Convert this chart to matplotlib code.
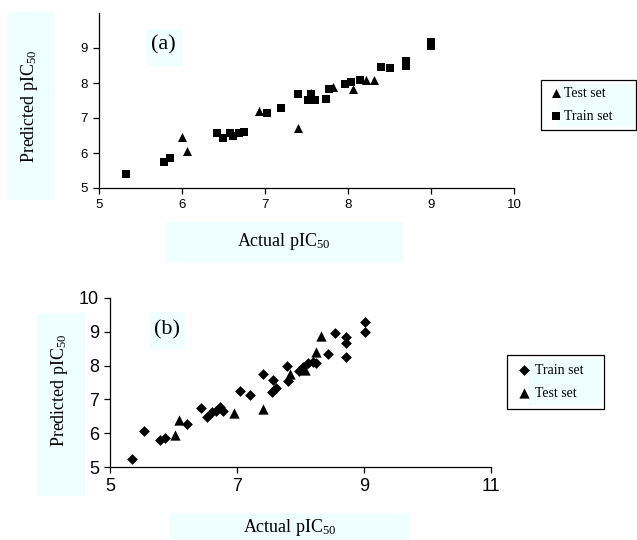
import matplotlib
matplotlib.use("Agg")
import matplotlib.pyplot as plt
from matplotlib.patches import Rectangle

# ---------------- data ----------------
a_train_x = [5.33, 5.78, 5.85, 6.42, 6.49, 6.58, 6.62, 6.69, 6.75, 7.03, 7.19, 7.40, 7.52,
             7.55, 7.60, 7.74, 7.77, 7.96, 8.04, 8.14, 8.40, 8.51, 8.70, 8.70, 9.00, 9.00]
a_train_y = [5.39, 5.74, 5.87, 6.56, 6.44, 6.58, 6.49, 6.58, 6.61, 7.13, 7.29, 7.68, 7.52,
             7.68, 7.52, 7.53, 7.82, 7.97, 8.04, 8.09, 8.47, 8.42, 8.62, 8.50, 9.18, 9.06]
a_test_x = [6.00, 6.06, 6.93, 7.40, 7.55, 7.82, 8.06, 8.22, 8.31]
a_test_y = [6.47, 6.06, 7.20, 6.71, 7.72, 7.90, 7.83, 8.09, 8.09]

b_train_x = [5.34, 5.53, 5.79, 5.87, 6.21, 6.43, 6.52, 6.60, 6.67, 6.73, 6.78, 7.05, 7.20,
             7.41, 7.56, 7.55, 7.62, 7.78, 7.81, 7.97, 8.04, 8.12, 8.20, 8.25, 8.43, 8.55,
             8.72, 8.72, 8.72, 9.02, 9.02]
b_train_y = [5.24, 6.07, 5.80, 5.87, 6.26, 6.75, 6.49, 6.64, 6.66, 6.78, 6.66, 7.26, 7.13,
             7.75, 7.56, 7.23, 7.33, 7.99, 7.55, 7.85, 7.97, 8.07, 8.12, 8.07, 8.34, 8.96,
             8.84, 8.68, 8.26, 9.28, 8.99]
b_test_x = [6.02, 6.08, 6.95, 7.41, 7.84, 8.07, 8.24, 8.32]
b_test_y = [5.95, 6.39, 6.59, 6.73, 7.75, 7.87, 8.41, 8.88]

a_xticks = [5, 6, 7, 8, 9, 10]
a_yticks = [5, 6, 7, 8, 9]
b_xticks = [5, 7, 9, 11]
b_yticks = [5, 6, 7, 8, 9, 10]

xlabel = "Actual pIC$_{\\mathrm{50}}$"
ylabel = "Predicted pIC$_{\\mathrm{50}}$"

# ---------------- figure ----------------
plt.rcParams["mathtext.fontset"] = "custom"
plt.rcParams["mathtext.rm"] = "Liberation Serif"
plt.rcParams["mathtext.it"] = "Liberation Serif:italic"

W, H = 637, 540
fig = plt.figure(figsize=(W / 100, H / 100), dpi=100)
CYAN = "#effefe"
SERIF = "Liberation Serif"
SANS = "Liberation Sans"


def fbox(x0, y0, x1, y1):
    return (x0 / W, 1 - y1 / H, (x1 - x0) / W, (y1 - y0) / H)


def rect(x0, y0, x1, y1, fc=CYAN, ec="none", lw=0, z=-5):
    l, b, w, h = fbox(x0, y0, x1, y1)
    fig.patches.append(Rectangle((l, b), w, h, transform=fig.transFigure,
                                 facecolor=fc, edgecolor=ec, linewidth=lw, zorder=z))


def style(ax, fs):
    ax.set_facecolor("none")
    for s in ("top", "right"):
        ax.spines[s].set_visible(False)
    for s in ("left", "bottom"):
        ax.spines[s].set_linewidth(0.9)
    ax.tick_params(direction="out", length=4, width=0.9, labelsize=fs, pad=4)
    for t in ax.get_xticklabels() + ax.get_yticklabels():
        t.set_fontfamily(SANS)


# ---------- panel (a) ----------
axa = fig.add_axes(fbox(99, 13, 514, 188))
axa.scatter(a_train_x, a_train_y, marker="s", s=30, color="black", linewidths=0,
            label="Train set", zorder=3)
axa.scatter(a_test_x, a_test_y, marker="^", s=42, color="black", linewidths=0,
            label="Test set", zorder=3)
axa.set_xlim(5, 10)
axa.set_ylim(5, 10)
axa.set_xticks(a_xticks)
axa.set_yticks(a_yticks)
style(axa, 9.5)

# ---------- panel (b) ----------
axb = fig.add_axes(fbox(110, 298, 491, 467))
axb.scatter(b_train_x, b_train_y, marker="D", s=30, color="black", linewidths=0,
            label="Train set", zorder=3)
axb.scatter(b_test_x, b_test_y, marker="^", s=55, color="black", linewidths=0,
            label="Test set", zorder=3)
axb.set_xlim(5, 11)
axb.set_ylim(5, 10)
axb.set_xticks(b_xticks)
axb.set_yticks(b_yticks)
style(axb, 13)

# ---------- cyan boxes & labels ----------
rect(166, 222, 403, 263)
fig.text(284 / W, 1 - 241 / H, xlabel, family=SERIF, fontsize=13, ha="center", va="center")
rect(7, 12, 55, 200)
fig.text(30 / W, 1 - 106 / H, ylabel, family=SERIF, fontsize=13, ha="center", va="center",
         rotation=90)
rect(147, 29, 182, 66)
fig.text(163 / W, 1 - 45 / H, "(a)", family=SERIF, fontsize=16, ha="center", va="center")

rect(170, 513, 410, 540)
fig.text(290 / W, 1 - 528 / H, xlabel, family=SERIF, fontsize=13, ha="center", va="center")
rect(37, 313, 85, 496)
fig.text(59 / W, 1 - 390 / H, ylabel, family=SERIF, fontsize=13, ha="center", va="center",
         rotation=90)
rect(150, 312, 185, 349)
fig.text(167 / W, 1 - 330 / H, "(b)", family=SERIF, fontsize=16, ha="center", va="center")

# ---------- legends ----------
rect(541, 80, 636, 130, fc="white", ec="black", lw=0.9, z=-6)
rect(558, 84, 634, 127)
ha, la = axa.get_legend_handles_labels()
lega = fig.legend([ha[1], ha[0]], [la[1], la[0]], loc="center left",
                  bbox_to_anchor=(542 / W, 1 - 105 / H), frameon=False,
                  prop={"family": SERIF, "size": 10}, handlelength=0.6, handletextpad=0.3,
                  labelspacing=0.7, borderpad=0.2, markerscale=1.0)

rect(507, 355, 604, 409, fc="white", ec="black", lw=0.9, z=-6)
rect(529, 359, 601, 405)
hb, lb = axb.get_legend_handles_labels()
legb = fig.legend(hb, lb, loc="center left",
                  bbox_to_anchor=(509 / W, 1 - 382 / H), frameon=False,
                  prop={"family": SERIF, "size": 10}, handlelength=0.8, handletextpad=0.4,
                  labelspacing=0.7, borderpad=0.2, markerscale=1.0)

fig.savefig("out.png", dpi=100)
